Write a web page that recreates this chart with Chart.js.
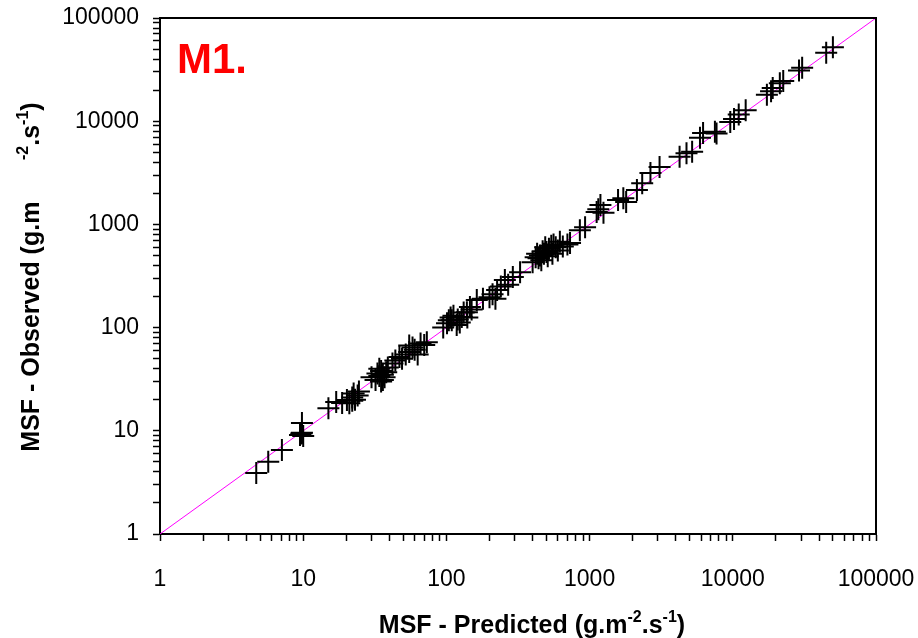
<!DOCTYPE html>
<html lang="en">
<head>
<meta charset="UTF-8">
<title>MSF - Observed vs Predicted</title>
<script src="https://cdn.jsdelivr.net/npm/chart.js@4"></script>
<style>
  * { margin: 0; padding: 0; }
  body { background: #fff; width: 918px; height: 638px; overflow: hidden; }
  canvas { display: block; }
</style>
</head>
<body>
<canvas id="msfChart" width="918" height="638"></canvas>
<script>
// MSF values (g.m-2.s-1)
const predicted = [
  4.7, 5.7, 7.1, 9.5, 9.8, 10.0, 9.7, 9.8,
  15, 17, 18.7, 20.2, 21, 22, 22.5, 23, 24, 22, 24.5,
  30, 32, 33, 34, 35, 35, 36, 37, 38, 34, 36, 39, 42, 44, 47, 49, 52, 55, 55, 58, 60, 63, 66, 70, 73,
  95, 101, 104, 107, 109, 112, 118, 120, 124, 128, 132, 139, 140, 146, 150, 163,
  180, 200, 210, 220, 226, 240, 256, 270, 291, 327,
  400, 420, 430, 440, 450, 460, 470, 480, 490, 500, 510, 520, 540, 550, 560, 580, 600, 620, 650, 700, 730,
  855, 930, 1120, 1190, 1150, 1250,
  1580, 1720, 1800, 2140, 2330, 2660, 3080, 4250, 4750, 5200, 5900, 6200, 7500, 7700,
  9600, 10200, 11000, 12300, 17300, 18500, 19000, 21300, 22500, 29000, 30500, 44900, 50000
];
const observed = [
  3.9, 5.0, 6.5, 9.1, 9.6, 8.9, 9.4, 11.9,
  16.5, 19, 18.6, 19.9, 18.5, 21, 23, 20, 22, 19.5, 24,
  33, 31, 36, 34, 30, 38, 35, 33, 37, 40, 31, 41, 45, 48, 52, 50, 55, 58, 67, 64, 61, 55, 70, 68, 72,
  100, 110, 118, 125, 118, 130, 106, 120, 112, 127, 140, 141, 125, 158, 150, 185,
  190, 197, 210, 190, 232, 250, 290, 260, 310, 344,
  430, 480, 520, 470, 500, 450, 550, 520, 600, 540, 490, 580, 620, 520, 640, 600, 560, 680, 610, 640, 660,
  880, 940, 1320, 1540, 1400, 1300,
  1720, 1790, 1650, 2150, 2510, 3150, 3600, 4530, 4900, 5050, 6900, 7700, 7900, 7600,
  9800, 10500, 11600, 12800, 18000, 19500, 21000, 23300, 24500, 31000, 33000, 46000, 52000
];
const axisMin = 1;
const axisMax = 100000;
const decadeTicks = [1, 10, 100, 1000, 10000, 100000];

const points = predicted.map((x, i) => ({ x, y: observed[i] }));

// 1..9 in every decade, labels only on the decades
function logTicks(scale) {
  const ticks = [];
  for (let d = axisMin; d < axisMax; d *= 10) {
    for (let m = 1; m < 10; m++) ticks.push({ value: d * m });
  }
  ticks.push({ value: axisMax });
  scale.ticks = ticks;
}
function decadeLabel(v) {
  return decadeTicks.includes(v) ? String(v) : '';
}

function drawRich(ctx, parts, x, y, size) {
  const full = 'bold ' + size + 'px "Liberation Sans", Arial, sans-serif';
  const small = 'bold ' + Math.round(size * 0.62) + 'px "Liberation Sans", Arial, sans-serif';
  let width = 0;
  for (const p of parts) {
    ctx.font = p.sup ? small : full;
    width += ctx.measureText(p.t).width;
  }
  let cx = x - width / 2;
  ctx.textAlign = 'left';
  ctx.textBaseline = 'alphabetic';
  for (const p of parts) {
    ctx.font = p.sup ? small : full;
    ctx.fillText(p.t, cx, p.sup ? y - size * 0.45 : y);
    cx += ctx.measureText(p.t).width;
  }
}

const decor = {
  id: 'decor',
  afterDraw(chart) {
    const { ctx, chartArea: a } = chart;
    ctx.save();
    // top and right frame
    ctx.strokeStyle = '#000';
    ctx.lineWidth = 2;
    ctx.beginPath();
    ctx.moveTo(a.left, a.top);
    ctx.lineTo(a.right, a.top);
    ctx.lineTo(a.right, a.bottom);
    ctx.stroke();

    ctx.fillStyle = '#ff0000';
    ctx.font = 'bold 42px "Liberation Sans", Arial, sans-serif';
    ctx.textAlign = 'left';
    ctx.textBaseline = 'alphabetic';
    ctx.fillText('M1.', 177, 73);

    ctx.fillStyle = '#000';
    drawRich(ctx, [
      { t: 'MSF - Predicted (g.m' }, { t: '-2', sup: true },
      { t: '.s' }, { t: '-1', sup: true }, { t: ')' }
    ], 532, 633, 25);

    ctx.translate(39, 277);
    ctx.rotate(-Math.PI / 2);
    drawRich(ctx, [
      { t: 'MSF - Observed (g.m      ' }, { t: '-2', sup: true },
      { t: '.s' }, { t: '-1', sup: true }, { t: ')' }
    ], 0, 0, 25);
    ctx.restore();
  }
};

const tickFont = { family: '"Liberation Sans", Arial, sans-serif', size: 23 };

new Chart(document.getElementById('msfChart'), {
  type: 'scatter',
  data: {
    datasets: [
      {
        label: 'MSF',
        data: points,
        pointStyle: 'cross',
        pointRadius: 11,
        pointBorderColor: '#000',
        pointBorderWidth: 2,
        backgroundColor: '#000'
      },
      {
        type: 'line',
        label: '1:1',
        data: [{ x: axisMin, y: axisMin }, { x: axisMax, y: axisMax }],
        borderColor: '#ff00ff',
        borderWidth: 1,
        pointRadius: 0,
        fill: false
      }
    ]
  },
  options: {
    responsive: false,
    animation: false,
    devicePixelRatio: 1,
    layout: { padding: 0 },
    plugins: { legend: { display: false }, tooltip: { enabled: false } },
    scales: {
      x: {
        type: 'logarithmic',
        min: axisMin,
        max: axisMax,
        afterBuildTicks: logTicks,
        afterFit: s => { s.height = 104; s.paddingLeft = 0; s.paddingRight = 42; },
        grid: { drawOnChartArea: false, tickLength: 7, tickColor: '#000', tickWidth: 1.5 },
        border: { color: '#000', width: 2 },
        ticks: { color: '#000', font: tickFont, padding: 25, maxRotation: 0, autoSkip: false, callback: decadeLabel }
      },
      y: {
        type: 'logarithmic',
        min: axisMin,
        max: axisMax,
        afterBuildTicks: logTicks,
        afterFit: s => { s.width = 160; s.paddingTop = 18; s.paddingBottom = 0; },
        grid: { drawOnChartArea: false, tickLength: 7, tickColor: '#000', tickWidth: 1.5 },
        border: { color: '#000', width: 2 },
        ticks: { color: '#000', font: tickFont, padding: 14, autoSkip: false, callback: decadeLabel }
      }
    }
  },
  plugins: [decor]
});
</script>
</body>
</html>
